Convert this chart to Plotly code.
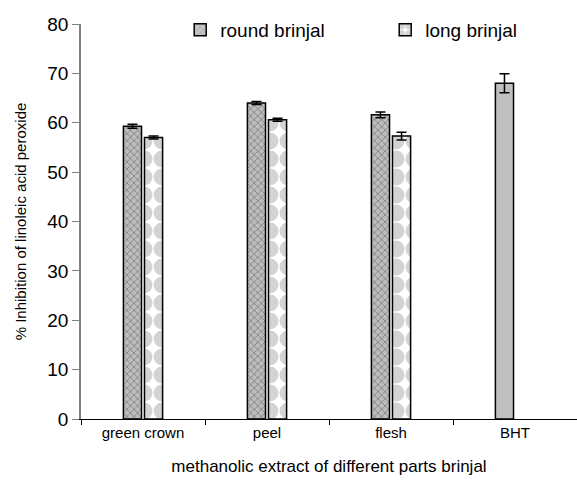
import plotly.graph_objects as go

categories = ["green crown", "peel", "flesh", "BHT"]
round_brinjal = [59.3, 64.0, 61.6, 68.0]
round_err = [0.4, 0.3, 0.6, 1.9]
long_brinjal = [57.0, 60.6, 57.3, None]
long_err = [0.3, 0.3, 0.8, 0]

y_ticks = [0, 10, 20, 30, 40, 50, 60, 70, 80]

font_family = "Liberation Sans, Arial, sans-serif"

fig = go.Figure()
fig.add_trace(go.Bar(
    name="round brinjal",
    x=categories,
    y=round_brinjal,
    error_y=dict(type="data", array=round_err, color="black", thickness=1.5, width=5),
    marker=dict(
        color=["#bcbcbc", "#bcbcbc", "#bcbcbc", "#c0c0c0"],
        line=dict(color="black", width=1.5),
        pattern=dict(
            shape=["x", "x", "x", ""],
            fgcolor="#f4f4f4",
            bgcolor=["#b8b8b8", "#b8b8b8", "#b8b8b8", "#c0c0c0"],
            size=5,
            solidity=0.3,
        ),
    ),
))
fig.add_trace(go.Bar(
    name="long brinjal",
    x=categories,
    y=long_brinjal,
    error_y=dict(type="data", array=long_err, color="black", thickness=1.5, width=5),
    marker=dict(
        color="white",
        line=dict(color="black", width=1.5),
        pattern=dict(shape=".", fgcolor="#a8a8a8", bgcolor="white", size=18, solidity=0.7),
    ),
))

fig.update_layout(
    width=577, height=489,
    margin=dict(l=81, r=0, t=24, b=70, autoexpand=False),
    paper_bgcolor="white", plot_bgcolor="white",
    font=dict(family=font_family, color="black"),
    barmode="group", bargap=0.66, bargroupgap=0.14,
    showlegend=True,
    legend=dict(
        orientation="h", x=0.2, xanchor="left", y=0.985, yanchor="middle",
        font=dict(size=19), itemwidth=30, entrywidth=160, entrywidthmode="pixels",
        bgcolor="rgba(0,0,0,0)", itemclick=False,
    ),
    xaxis=dict(
        range=[-0.5, 3.5], showline=True, linecolor="black", linewidth=1,
        ticks="outside", tickson="boundaries", ticklen=5, tickcolor="black",
        tickfont=dict(size=15), showgrid=False,
        title=dict(text="methanolic extract of different parts brinjal", font=dict(size=17), standoff=20),
    ),
    yaxis=dict(
        range=[0, 80], tickvals=y_ticks, showline=True, linecolor="#808080", linewidth=1.5,
        ticks="outside", ticklen=7, tickcolor="#808080", tickfont=dict(size=19),
        showgrid=False, zeroline=False,
        title=dict(text="% Inhibition of linoleic acid peroxide", font=dict(size=15), standoff=17),
    ),
)

fig.write_html(
    "out.html",
    config={"displayModeBar": False},
    post_script="document.body.style.margin='0';",
)
